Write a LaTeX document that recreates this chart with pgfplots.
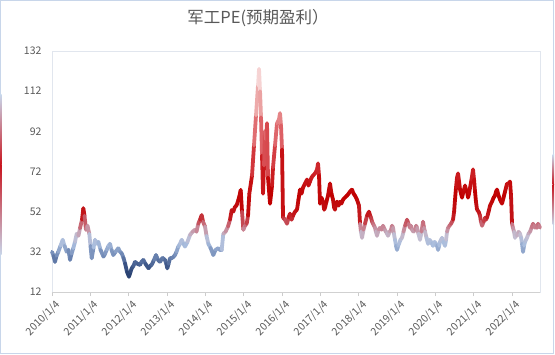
\documentclass[border=0pt]{standalone}
\usepackage{fontspec}
\usepackage{pgfplots}
\pgfplotsset{compat=1.18}
\newfontfamily\cjk{Noto Sans CJK SC}
\definecolor{txt}{RGB}{89,89,89}
\definecolor{frame}{RGB}{200,214,234}
\definecolor{pframe}{RGB}{225,230,238}
\definecolor{edgered}{RGB}{200,20,30}
\pgfplotsset{colormap={pe}{rgb255(18pt)=(31,56,100) rgb255(24pt)=(55,80,130) rgb255(30pt)=(110,135,180) rgb255(36pt)=(170,190,222) rgb255(40pt)=(195,190,210) rgb255(45pt)=(200,120,135) rgb255(50pt)=(195,25,30) rgb255(60pt)=(192,0,0) rgb255(72pt)=(205,35,40) rgb255(90pt)=(222,100,105) rgb255(105pt)=(235,160,160) rgb255(125pt)=(252,242,242)}}
\pgfplotstableread{
t v
0.000 32
0.040 30
0.078 27
0.117 30
0.164 32
0.222 35
0.279 38
0.326 35
0.384 32
0.430 33
0.470 28
0.509 31
0.556 33.8
0.600 37
0.644 41
0.691 40
0.730 43.7
0.783 48
0.817 53.7
0.848 50
0.887 43
0.926 45
0.973 41
1.004 35
1.036 28.8
1.083 34
1.122 38
1.161 36
1.209 37
1.265 33
1.343 29.6
1.383 31
1.427 33
1.474 35
1.513 36
1.552 33
1.599 30.4
1.657 32
1.730 33.8
1.774 32
1.818 31.3
1.865 29
1.905 26.3
1.957 22
2.009 19.6
2.048 22
2.079 23.8
2.126 25
2.165 27
2.231 26
2.296 25.5
2.335 27
2.382 28
2.439 26
2.518 23.8
2.557 25
2.600 25.5
2.661 28
2.713 30.4
2.766 28
2.818 27
2.883 29
2.948 28
2.983 26
3.008 23.8
3.040 26
3.079 28.8
3.144 29
3.209 30.4
3.248 32
3.295 34.6
3.340 36
3.384 38
3.431 36
3.470 34.6
3.535 37
3.600 40.4
3.666 42
3.731 43
3.770 42
3.817 46
3.861 48
3.905 50.3
3.940 47
3.992 44.6
4.031 40
4.078 36
4.135 34
4.208 30.4
4.266 33
4.339 33.8
4.383 33
4.427 33
4.469 41
4.527 42
4.592 44.6
4.644 48
4.688 52.8
4.730 52
4.774 54.5
4.813 55
4.861 57.8
4.892 60
4.923 62.8
4.957 52
4.992 43
5.035 45
5.079 46
5.114 50
5.148 61
5.218 70
5.270 85
5.322 100
5.375 115
5.401 123
5.427 112
5.453 99
5.479 80
5.505 61
5.531 75
5.557 92
5.583 88
5.609 96
5.635 69
5.688 56
5.740 65
5.766 74
5.818 85
5.870 96
5.922 98
5.948 101
5.974 95
6.001 83
6.027 49
6.079 48
6.131 46
6.170 49
6.209 51
6.250 48
6.288 50
6.340 52
6.392 53
6.430 58
6.470 63
6.510 61
6.548 64
6.600 66
6.653 68
6.690 65
6.731 67
6.770 69
6.809 70
6.862 71
6.914 73
6.940 76
6.966 70
6.992 56
7.030 59
7.070 57
7.100 53
7.123 54
7.160 57
7.201 60
7.253 66
7.290 61
7.331 58
7.360 54
7.384 53
7.410 56
7.436 57
7.475 55
7.514 57
7.550 56
7.592 58
7.640 59
7.696 60
7.740 61
7.775 62
7.827 63
7.865 61
7.905 60
7.957 58
8.009 55
8.036 46
8.060 42
8.088 39
8.125 43
8.166 46
8.218 50
8.270 52
8.300 50
8.323 49
8.350 47
8.375 46
8.400 45
8.427 44
8.450 42
8.479 40
8.520 43
8.557 44
8.600 43
8.636 45
8.680 43
8.714 42
8.740 41
8.766 40
8.810 42
8.845 43
8.870 45
8.897 44
8.920 41
8.949 38
8.975 35
9.001 33
9.030 35
9.053 36
9.090 38
9.131 39
9.170 42
9.210 45
9.262 48
9.300 46
9.340 44
9.365 45
9.392 43
9.430 42
9.471 43
9.500 45
9.523 44
9.560 41
9.601 38
9.640 42
9.679 47
9.705 44
9.732 42
9.770 39
9.810 36
9.850 38
9.888 37
9.915 36
9.940 35
9.980 37
10.018 36
10.045 35
10.071 33
10.100 35
10.123 37
10.150 38
10.175 39
10.210 37
10.253 35
10.280 38
10.306 42
10.332 44
10.370 45
10.410 46
10.462 48
10.490 52
10.514 58
10.540 64
10.566 69
10.593 71
10.620 67
10.645 63
10.670 61
10.697 59
10.720 61
10.749 63
10.775 65
10.800 63
10.827 62
10.853 59
10.880 61
10.906 64
10.945 68
10.984 73
11.010 68
11.036 62
11.060 57
11.088 53
11.130 52
11.167 50
11.190 47
11.219 45
11.260 47
11.297 49
11.320 48
11.349 49
11.390 52
11.427 55
11.480 57
11.520 59
11.558 60
11.585 62
11.610 63
11.650 60
11.688 58
11.715 57
11.740 56
11.780 59
11.819 62
11.845 64
11.871 66
11.910 66
11.949 67
11.975 60
12.001 46
12.025 44
12.053 42
12.079 39
12.105 41
12.132 40
12.170 42
12.210 41
12.240 39
12.262 36
12.288 32
12.315 35
12.340 37
12.365 38
12.393 39
12.430 41
12.471 42
12.510 44
12.549 46
12.575 45
12.601 44
12.630 45
12.653 44
12.680 46
12.705 45
12.731 44
}\pedata
\begin{document}
\begin{tikzpicture}
\useasboundingbox (0bp,0bp) rectangle (555bp,355bp);
\fill[white] (0bp,0bp) rectangle (555bp,355bp);
\draw[frame, line width=1.2bp] (0.6bp,1.5bp) rectangle (553.4bp,354.4bp);
\shade[top color=frame, bottom color=edgered] (0bp,190bp) rectangle (1.6bp,260bp);
\shade[top color=edgered, bottom color=frame] (0bp,100bp) rectangle (1.6bp,190bp);
\shade[top color=frame, bottom color=edgered] (552.6bp,170bp) rectangle (554.2bp,200bp);
\shade[top color=edgered, bottom color=frame] (552.6bp,130bp) rectangle (554.2bp,170bp);
\node[font=\cjk\fontsize{16.5bp}{18bp}\selectfont, text=txt] at (258bp,337bp) {军工PE(预期盈利）};
\begin{axis}[
  at={(52bp,63bp)}, anchor=south west,
  scale only axis, width=488bp, height=241bp,
  xmin=0, xmax=12.731, ymin=12, ymax=132,
  ytick={12,32,...,132},
  xtick={0,1,...,12},
  xticklabels={2010/1/4,2011/1/4,2012/1/4,2013/1/4,2014/1/4,2015/1/4,2016/1/4,2017/1/4,2018/1/4,2019/1/4,2020/1/4,2021/1/4,2022/1/4},
  axis line style={draw=pframe, line width=0.8bp},
  xtick pos=bottom, ytick pos=left, tick align=outside,
  major tick length=4bp,
  ytick style={draw=none},
  xtick style={draw=black!20, line width=0.8bp},
  /pgf/number format/assume math mode=true,
  tick label style={font=\cjk\fontsize{10.5bp}{12bp}\selectfont, text=txt},
  yticklabel style={xshift=-3bp},
  xticklabel style={rotate=45, anchor=north east, xshift=3bp, yshift=-1bp},
  colormap name=pe,
  point meta min=18, point meta max=125,
  clip=false,
]
\draw[black!18, line width=0.8bp] (axis cs:0,12) -- (axis cs:12.731,12);
\addplot[mesh, line width=3.8bp, line join=round, line cap=round, point meta=\thisrow{v}] table[x=t,y=v] {\pedata};
\end{axis}
\end{tikzpicture}
\end{document}
